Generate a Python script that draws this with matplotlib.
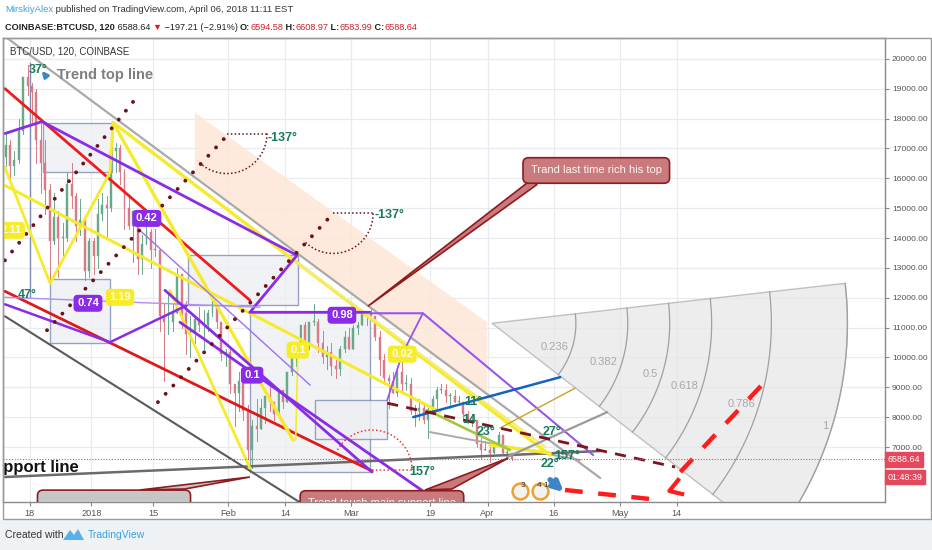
import numpy as np
import pandas as pd
import matplotlib
matplotlib.use("Agg")
import matplotlib.pyplot as plt
from matplotlib.patches import Polygon, Rectangle
from matplotlib.transforms import blended_transform_factory

plt.rcParams['font.family'] = ['Liberation Sans', 'DejaVu Sans']

# ---------------- data ----------------
first_day = '2017-12-12'
last_day = '2018-04-06'
first_open = 16700
highs = [17500, 17300, 16900, 18000, 19400, 19800, 19200, 19000, 17900, 17300,
         15800, 15500, 14900, 14500, 16200, 16500, 15500, 15300, 14700, 14000,
         14000, 15300, 15500, 15400, 17200, 17200, 17100, 16300, 15400, 14900,
         14900, 14100, 14500, 14300, 14300, 13600, 11800, 12100, 11800, 13000,
         12800, 11900, 11400, 11400, 11700, 11600, 11600, 12000, 11800, 11200,
         10300, 10300, 9100, 9500, 9400, 8400, 7900, 8600, 8600, 8700,
         9100, 8500, 8900, 8900, 9500, 10200, 10300, 11100, 11200, 11200,
         11800, 11300, 10900, 10400, 10500, 9900, 10400, 10900, 11000, 11100,
         11200, 11500, 11500, 11700, 11400, 10900, 10100, 9400, 9500, 9700,
         9900, 9400, 9300, 8400, 8600, 8400, 8300, 8700, 9000, 9100,
         9100, 8800, 8900, 8700, 8500, 8200, 8100, 7900, 7300, 7200,
         7000, 7100, 7500, 7400, 6900, 6800]
lows = [16400, 15900, 16100, 16500, 17500, 18800, 17900, 16500, 15500, 14800,
        12500, 13800, 12700, 13400, 13900, 15000, 13900, 14100, 12600, 12700,
        12800, 13000, 14600, 14000, 14900, 16200, 15800, 14300, 14300, 13200,
        12800, 12800, 13800, 13000, 13400, 10900, 9200, 10800, 10900, 11500,
        11000, 10100, 10000, 10500, 10900, 10300, 10900, 11400, 11000, 9900,
        9700, 8800, 7700, 8200, 7900, 6600, 6300, 7200, 7600, 7800,
        8200, 7900, 8100, 8300, 8500, 9400, 9700, 10100, 10100, 10300,
        11100, 10200, 9800, 9600, 9400, 9300, 9400, 10200, 10300, 10300,
        10800, 11100, 11100, 11400, 10600, 9400, 9100, 8300, 8800, 8700,
        8800, 8900, 8100, 7700, 7900, 7800, 7300, 8100, 8300, 8800,
        8500, 8300, 8500, 8400, 7900, 7800, 7700, 7000, 6600, 6900,
        6500, 6800, 7100, 6800, 6600, 6550]
closes = [17100, 16400, 16600, 17600, 19400, 19100, 18900, 17300, 16500, 15600,
          13900, 14700, 14000, 14000, 15800, 15400, 14400, 14600, 12900, 13900,
          13400, 14800, 15100, 15000, 16900, 17000, 16200, 15000, 14400, 14900,
          13300, 13800, 14200, 13600, 13600, 11400, 11200, 11200, 11500, 12800,
          11500, 10800, 10900, 11300, 11100, 11100, 11500, 11800, 11200, 10100,
          10200, 9100, 8800, 9200, 8200, 6900, 7700, 7600, 8300, 8700,
          8500, 8100, 8900, 8500, 9500, 10100, 10200, 11100, 10400, 11200,
          11200, 10500, 10000, 10200, 9700, 9600, 10300, 10700, 10300, 11000,
          11100, 11500, 11500, 11400, 10700, 9900, 9300, 9200, 8800, 9500,
          9100, 9100, 8200, 8200, 8300, 7900, 8200, 8600, 8900, 8900,
          8700, 8700, 8500, 8500, 8100, 7800, 7900, 7100, 6900, 6900,
          6800, 7100, 7400, 6800, 6800, 6590]
last_price = 6588.64

price_ticks = [20000, 19000, 18000, 17000, 16000, 15000, 14000, 13000, 12000,
               11000, 10000, 9000, 8000, 7000]
date_ticks = ['2017-12-18', '2018-01-01', '2018-01-15', '2018-02-01', '2018-02-14',
              '2018-03-01', '2018-03-19', '2018-04-01', '2018-04-16', '2018-05-01',
              '2018-05-14']
date_tick_labels = ['18', '2018', '15', 'Feb', '14', 'Mar', '19', 'Apr', '16', 'May', '14']

# drawings: (day offset from 2018-01-01, price)
trend_top = [(-21.0, 20900), (115.6, 5963)]
support = [(-19.66, 5997), (115.6, 6866)]
gray_diag = [(-19.66, 11381), (51.9, 4726)]
gray_low = [(76.9, 7502), (111.0, 6565)]
red_upper = [(-19.66, 19005), (36.0, 11916)]
red_lower = [(-19.66, 12217), (63.75, 6197)]
purple_path = [(-19.66, 17500), (-11.25, 17901), (46.7, 13420), (36.0, 11514), (63.3, 11514)]
purple_right = [(63.3, 11481), (75.3, 11481), (114.0, 6732)]
purple_short = [(75.3, 11481), (70.6, 10110), (67.2, 8572)]
purple_zig = [(-19.66, 11782), (4.2, 10511), (21.7, 11748)]
purple_thin = [(-19.66, 12016), (38.3, 11682)]
purple_g = [(16.7, 12250), (63.75, 6164)]
purple_g2 = [(11.0, 14257), (49.7, 9073)]
purple_h = [(20.1, 11180), (81.5, 4893)]
yellow_a = [(-19.66, 15761), (79.2, 8170)]
yellow_4 = [(4.9, 17868), (104.2, 6732)]
yellow_5 = [(46.7, 13186), (103.1, 7000)]
yellow_zig = [(-19.66, 16364), (-9.4, 12484), (4.2, 16196), (4.9, 17868)]
yellow_c = [(4.9, 17868), (45.8, 7234)]
yellow_e = [(17.8, 12250), (36.0, 6298)]
yellow_v = [(46.9, 10177), (46.4, 7234)]
yellow_flat = [(90.6, 7067), (104.2, 6799)]
green_line = [(76.3, 8237), (95.1, 6900)]
dotted_1 = [(-19.66, 13253), (10.6, 18771)]
dotted_2 = [(-10.1, 10912), (30.8, 17433)]
dotted_3 = [(15.1, 8505), (54.9, 14825)]
dashed_maroon = [(67.2, 8471), (132.6, 6331)]
blue_line = [(73.1, 8003), (106.5, 9341)]
gray_up = [(94.4, 6666), (117.2, 8170)]
gold_line = [(92.8, 7635), (109.9, 8973)]
forecast_a = [(107.6, 5562), (126.9, 5261)]
forecast_b = [(133.8, 6164), (154.2, 9374)]
forecast_head = [(133.3, 5896), (131.3, 5529), (134.2, 5428)]
peach_band = [(23.5, 18202), (89.9, 11180), (89.9, 8739), (23.5, 16096)]
boxes = [((-11.0, 16196), (4.66, 17868)), ((-9.4, 10478), (4.2, 12618)),
         ((21.9, 11748), (46.9, 13420)), ((36.0, 6164), (63.3, 11514)),
         ((50.8, 7268), (67.2, 8572))]
vline_box = [(-14.0, 19874), (-14.0, 12016)]
fan_origin = (91.0, 11147)
fan_top = (171.25, 12484)
fan_bottom_dir = (142.8, 5228)
fan_levels = [0.236, 0.382, 0.5, 0.618, 0.786, 1]
fan_labels = ['0.236', '0.382', '0.5', '0.618', '0.786', '1']
angle_arcs = [((30.8, 17500), 0, -137, '#6d1018'), ((54.9, 14825), 0, -137, '#6d1018'),
              ((63.75, 6231), 0, 157, '#e53935')]
angle_texts = [('-137°', 40.1, 17366), ('-137°', 64.4, 14758), ('157°', 72.3, 6150),
               ('157°', 105.2, 6700), ('27°', 102.4, 7502), ('22°', 102.0, 6440),
               ('23°', 87.4, 7502), ('11°', 84.7, 8505), ('14', 84.2, 7903),
               ('47°', -16.7, 12083), ('37°', -14.3, 19640)]
purple_badges = [('0.74', -0.8, 11815), ('0.42', 12.6, 14658), ('0.98', 56.9, 11414),
                 ('0.1', 36.5, 9408)]
yellow_badges = [('1.19', 6.5, 12016), ('2.11', -18.3, 14257), ('0.1', 46.9, 10244),
                 ('0.02', 70.6, 10110)]
callout_top_text = 'Trand last time rich his top'
callout_top_box = (114.7, 16263)
callout_top_ptr = [(99.7, 15928), (101.25, 15794), (62.8, 11715)]
callout_bot_text = 'Trend touch main support line'
callout_bot_box = (66.0, 5110)
callout_bot_ptr = [(75.8, 5562), (81.9, 5596), (94.7, 6632)]
callout_gray_box = (-10.5, 5130)
callout_gray_ptr = [(11.0, 5562), (21.25, 5596), (36.0, 5997)]

# ---------------- figure ----------------
W, H = 932, 550
fig = plt.figure(figsize=(W / 100, H / 100), dpi=100)
fig.patch.set_facecolor('white')
fig.patches.append(Rectangle((0, 0), 1, 30 / H, transform=fig.transFigure,
                             facecolor='#eff2f5', edgecolor='none', zorder=0))
fig.patches.append(Rectangle((3 / W, (H - 519) / H), 928 / W, 481 / H,
                             transform=fig.transFigure, facecolor='none',
                             edgecolor='#9a9a9a', lw=1, zorder=5))

ax = fig.add_axes([3 / W, (H - 502) / H, 882 / W, 464 / H])
base = pd.Timestamp('2018-01-01')
ax.set_xlim(-20.1, 180.3)
ax.set_ylim(5160, 20700)

for t in date_ticks:
    ax.axvline((pd.Timestamp(t) - base).days, color='#e8ecf0', lw=0.9, zorder=0)
for p in price_ticks:
    ax.axhline(p, color='#e8ecf0', lw=0.9, zorder=0)

ax.set_xticks([(pd.Timestamp(t) - base).days for t in date_ticks])
ax.set_xticklabels(date_tick_labels)
ax.set_yticks(price_ticks)
ax.set_yticklabels([f'{p:.2f}' for p in price_ticks])
ax.yaxis.tick_right()
ax.tick_params(axis='both', colors='#888888', labelcolor='#555555', labelsize=6.6,
               length=3, width=0.8)
ax.tick_params(axis='y', pad=2, labelsize=6.1)
ax.tick_params(axis='x', pad=2)
for s in ax.spines.values():
    s.set_color('#8a8a8a')
    s.set_linewidth(1)

def P(pts):
    a = np.array(pts, dtype=float)
    return a[:, 0], a[:, 1]

# peach band
ax.add_patch(Polygon(peach_band, closed=True, facecolor='#fde7d6', edgecolor='none',
                     alpha=0.85, zorder=1))

# fib fan
O = ax.transData.transform(fan_origin)
T = ax.transData.transform(fan_top)
Bd = ax.transData.transform(fan_bottom_dir)
R = np.hypot(*(T - O))
th_t = np.degrees(np.arctan2(*(T - O)[::-1]))
th_b = np.degrees(np.arctan2(*(Bd - O)[::-1]))

def disp_arc(center_disp, r, a0, a1, n=80):
    t = np.radians(np.linspace(a0, a1, n))
    pts = np.column_stack([center_disp[0] + r * np.cos(t), center_disp[1] + r * np.sin(t)])
    return ax.transData.inverted().transform(pts)

outer = disp_arc(O, R, th_b, th_t)
fan_poly = np.vstack([[fan_origin], outer])
ax.add_patch(Polygon(fan_poly, closed=True, facecolor='#e6e6e6', edgecolor='#aaaaaa',
                     lw=1, alpha=0.7, zorder=1.5))
for lev, lab in zip(fan_levels, fan_labels):
    arc = disp_arc(O, R * lev, th_b, th_t)
    ax.plot(arc[:, 0], arc[:, 1], color='#a0a0a0', lw=0.9, zorder=1.6)
    ang = np.radians(-17)
    lp = ax.transData.inverted().transform(
        (O[0] + (R * lev - 4) * np.cos(ang), O[1] + (R * lev - 4) * np.sin(ang)))
    ax.text(lp[0], lp[1], lab, color='#a8a8a8', fontsize=8, ha='right', va='center',
            zorder=1.7, clip_on=True)

# boxes
for (x0, y0), (x1, y1) in boxes:
    ax.add_patch(Rectangle((x0, y0), x1 - x0, y1 - y0, facecolor='#eeeff3',
                           edgecolor='#7d8db3', lw=1, alpha=0.8, zorder=1.8))
ax.plot(*P(vline_box), color='#7d8db3', lw=1, zorder=1.8)

# candles
dates = pd.date_range(first_day, last_day)
xs = np.array((dates - base).days, dtype=float) + 0.5
opens = [first_open] + closes[:-1]
for x, o, h, l, c in zip(xs, opens, highs, lows, closes):
    col = '#69a98a' if c >= o else '#d97a85'
    ax.plot([x, x], [l, h], color=col, lw=0.7, zorder=2)
    ax.add_patch(Rectangle((x - 0.22, min(o, c)), 0.44, max(abs(c - o), 30),
                           facecolor=col, edgecolor=col, lw=0.3, zorder=2.1))

def line(pts, **kw):
    ax.plot(*P(pts), solid_capstyle='round', **kw)

line(trend_top, color='#a9a9a9', lw=1.6, zorder=3)
line(gray_low, color='#a9a9a9', lw=1.4, zorder=3)
line(support, color='#6b6b6b', lw=1.8, zorder=3)
line(gray_diag, color='#5a5a5a', lw=1.5, zorder=3)
line(red_upper, color='#ee1c1c', lw=2.0, zorder=3)
line(red_lower, color='#e01818', lw=2.0, zorder=3)
line(yellow_a, color='#f6ea2c', lw=2.2, zorder=3)
line(yellow_4, color='#f6ea2c', lw=2.4, zorder=3)
line(yellow_5, color='#f3ec7a', lw=1.6, zorder=3)
line(yellow_zig, color='#f6ea2c', lw=2.0, zorder=3)
line(yellow_c, color='#f6ea2c', lw=2.4, zorder=3)
line(yellow_e, color='#f6ea2c', lw=2.0, zorder=3)
line(yellow_v, color='#f6ea2c', lw=1.2, zorder=3)
line(yellow_flat, color='#f6ea2c', lw=2.4, zorder=3)
line(green_line, color='#9fc53a', lw=1.8, zorder=3)
line(purple_path, color='#8a2be8', lw=2.0, zorder=3.2)
line(purple_right, color='#9a55ee', lw=1.5, zorder=3.2)
line(purple_short, color='#9a55ee', lw=1.3, zorder=3.2)
line(purple_zig, color='#8a2be8', lw=1.8, zorder=3.2)
line(purple_thin, color='#b08ff2', lw=1.0, zorder=3.2)
line(purple_g, color='#8a2be8', lw=2.0, zorder=3.2)
line(purple_g2, color='#a070f0', lw=1.0, zorder=3.2)
line(purple_h, color='#8a2be8', lw=2.0, zorder=3.2)
for pts in (dotted_1, dotted_2, dotted_3):
    ax.plot(*P(pts), color='#6d1018', lw=2.8, linestyle=(0, (0.01, 2.9)),
            dash_capstyle='round', zorder=3.3)
ax.plot(*P(dashed_maroon), color='#7a1520', lw=2.0, linestyle=(0, (4, 3)), zorder=3.3)
line(blue_line, color='#1462c2', lw=1.8, zorder=3.2)
line(gray_up, color='#9a9a9a', lw=1.6, zorder=3.2)
line(gold_line, color='#caa22a', lw=1.0, zorder=3.2)
ax.plot(*P(forecast_a), color='#ff1c1c', lw=3.2, linestyle=(0, (4, 3.5)), zorder=3.4)
ax.plot(*P(forecast_b), color='#ff1c1c', lw=3.2, linestyle=(0, (4, 3.5)), zorder=3.4)
ax.plot(*P(forecast_head), color='#ff1c1c', lw=3.0, zorder=3.4)

# angle arcs
for center, a0, a1, col in angle_arcs:
    c = ax.transData.transform(center)
    arc = disp_arc(c, 40, a0, a1)
    ax.plot(arc[:, 0], arc[:, 1], color=col, lw=1.1, linestyle=(0, (1, 1.5)), zorder=3.5)
    ax.plot([center[0], arc[0, 0]], [center[1], arc[0, 1]], color=col, lw=1.1,
            linestyle=(0, (1, 1.5)), zorder=3.5)
for s, x, y in angle_texts:
    ax.text(x, y, s, color='#1d7a5c', fontsize=9, fontweight='bold', ha='left',
            va='center', zorder=4, clip_on=True)

ax.axhline(last_price, color='#e04c5c', lw=0.8, linestyle=(0, (1, 1.5)), zorder=3.6)

# badges
for s, x, y in purple_badges:
    ax.text(x, y, s, color='white', fontsize=8, fontweight='bold', ha='center',
            va='center', zorder=5, clip_on=True,
            bbox=dict(boxstyle='round,pad=0.25,rounding_size=0.3', fc='#8a2be8', ec='#8a2be8'))
for s, x, y in yellow_badges:
    ax.text(x, y, s, color='#fffbe0', fontsize=8, fontweight='bold', ha='center',
            va='center', zorder=5, clip_on=True,
            bbox=dict(boxstyle='round,pad=0.25,rounding_size=0.3', fc='#f7ec2a', ec='#f7ec2a'))

# callouts
ax.add_patch(Polygon(callout_top_ptr, closed=True, facecolor='#c97a7c',
                     edgecolor='#8e1b1f', lw=1.2, zorder=5))
ax.text(*callout_top_box, callout_top_text, color='#fff4f4', fontsize=8, ha='center',
        va='center', zorder=5.5,
        bbox=dict(boxstyle='round,pad=0.7,rounding_size=0.5', fc='#c97a7c', ec='#8e1b1f', lw=1.2))
ax.add_patch(Polygon(callout_bot_ptr, closed=True, facecolor='#c97a7c',
                     edgecolor='#8e1b1f', lw=1.2, zorder=5))
ax.text(*callout_bot_box, callout_bot_text, color='#fff4f4', fontsize=8, ha='center',
        va='center', zorder=5.5, clip_on=True,
        bbox=dict(boxstyle='round,pad=0.7,rounding_size=0.5', fc='#c97a7c', ec='#8e1b1f', lw=1.2))
ax.add_patch(Polygon(callout_gray_ptr, closed=True, facecolor='#c6c6c6',
                     edgecolor='#8e1b1f', lw=1.2, zorder=5))
ax.text(*callout_gray_box, ' ' * 44, color='white', fontsize=8, ha='left', va='center',
        zorder=5.5, clip_on=True,
        bbox=dict(boxstyle='round,pad=0.7,rounding_size=0.5', fc='#c6c6c6', ec='#8e1b1f', lw=1.2))

# texts on chart
ax.text(-7.8, 19473, 'Trend top line', color='#7f7f7f', fontsize=10.5, fontweight='bold',
        ha='left', va='center', zorder=4)
ax.text(-24.8, 6331, 'Support line', color='#111111', fontsize=12, fontweight='bold',
        ha='left', va='center', zorder=4, clip_on=True)
ax.text(0.008, 0.97, 'BTC/USD, 120, COINBASE', transform=ax.transAxes, color='#333333',
        fontsize=7, ha='left', va='center', zorder=6)
ax.annotate('', xy=(-11.7, 19674), xytext=(-9.9, 19339),
            arrowprops=dict(arrowstyle='-|>', color='#3d85c6', lw=2.2, mutation_scale=8), zorder=6)

for x, s in ((97.4, '3'), (102.0, '4 1')):
    ax.scatter([x], [5529], s=130, facecolor='#f2f2f2', edgecolor='#f0a030', lw=1.8, zorder=6)
    ax.text(x + 0.6, 5720, s, fontsize=6, color='#333333', ha='center', va='center', zorder=6.5)
ax.annotate('', xy=(107.8, 5428), xytext=(103.75, 5963),
            arrowprops=dict(arrowstyle='-|>', color='#3d85c6', lw=4, mutation_scale=14), zorder=6)

tr = blended_transform_factory(ax.transAxes, ax.transData)
ax.text(1.003, last_price, '6588.64', transform=tr, color='white', fontsize=6.4, ha='left',
        va='center', clip_on=False, zorder=7,
        bbox=dict(boxstyle='square,pad=0.3', fc='#e5475d', ec='#e5475d'))
ax.text(1.003, 5997, '01:48:39', transform=tr, color='white', fontsize=6.4, ha='left',
        va='center', clip_on=False, zorder=7,
        bbox=dict(boxstyle='square,pad=0.3', fc='#e5475d', ec='#e5475d'))

# header
renderer = fig.canvas.get_renderer()
def chain(parts, y, size):
    x = 5 / W
    for s, col, wt in parts:
        t = fig.text(x, y, s, color=col, fontsize=size, fontweight=wt, ha='left', va='center')
        bb = t.get_window_extent(renderer=renderer)
        x = bb.x1 / fig.bbox.width

chain([('MirskiyAlex', '#3aa0e4', 'normal'),
       (' published on TradingView.com, April 06, 2018 11:11 EST', '#333333', 'normal')],
      1 - 10 / H, 6.8)
chain([('COINBASE:BTCUSD, 120', '#222222', 'bold'),
       (' 6588.64 ', '#222222', 'normal'), ('▼', '#d0202a', 'normal'),
       (' −197.21 (−2.91%) ', '#222222', 'normal'), ('O:', '#222222', 'bold'),
       ('6594.58', '#d0202a', 'normal'), (' H:', '#222222', 'bold'),
       ('6608.97', '#d0202a', 'normal'), (' L:', '#222222', 'bold'),
       ('6583.99', '#d0202a', 'normal'), (' C:', '#222222', 'bold'),
       ('6588.64', '#d0202a', 'normal')], 1 - 27 / H, 6.6)

# footer
fig.text(5 / W, 1 - 535 / H, 'Created with', color='#333333', fontsize=7.5, ha='left', va='center')
fig.patches.append(Polygon([(63 / W, 1 - 540 / H), (70 / W, 1 - 530 / H), (74 / W, 1 - 535 / H),
                            (78 / W, 1 - 529 / H), (84 / W, 1 - 540 / H)], closed=True,
                           transform=fig.transFigure, facecolor='#5ab0e8', edgecolor='none'))
fig.text(88 / W, 1 - 535 / H, 'TradingView', color='#3aa0e4', fontsize=7.5, ha='left', va='center')

fig.savefig('out.png', dpi=100)
